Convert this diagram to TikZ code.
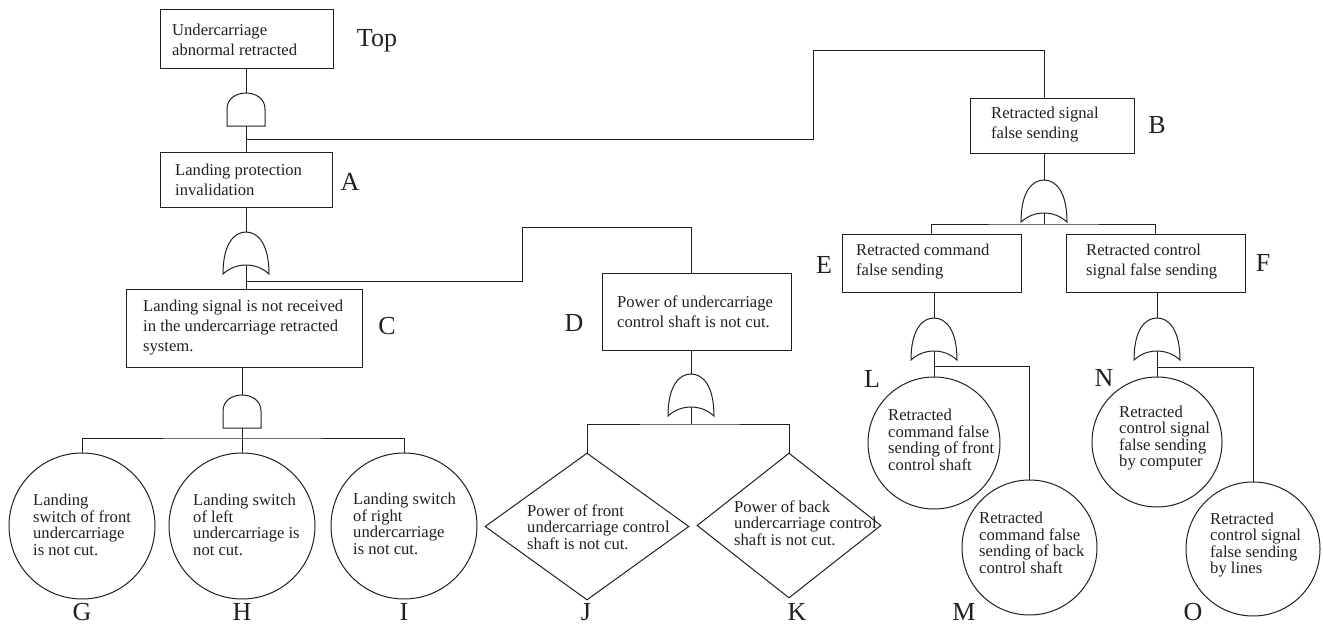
\documentclass[tikz,border=0pt]{standalone}
\usepackage{fontspec}
\setmainfont{Liberation Serif}
\usetikzlibrary{shapes.geometric}
\definecolor{ink}{RGB}{35,31,32}
\begin{document}
\begin{tikzpicture}[x=1pt,y=-1pt,
  line/.style={draw=ink,line width=1pt},
  gate/.style={draw=ink,line width=1pt,fill=white},
  boxnode/.style={draw=ink,line width=1pt,rectangle,inner sep=0pt},
  evnode/.style={draw=ink,line width=1pt,circle,inner sep=0pt},
  basenode/.style={draw=ink,line width=1pt,diamond,inner sep=0pt},
  btxt/.style={anchor=west,inner sep=0pt,align=left,text=ink,font=\fontsize{16.6}{20}\selectfont},
  ctxt/.style={anchor=west,inner sep=0pt,align=left,text=ink,font=\fontsize{16.6}{16.6}\selectfont},
  lbl/.style={anchor=base,inner sep=0pt,text=ink,font=\fontsize{26}{26}\selectfont},
  orgate/.pic={
    \draw[gate] (0,0) .. controls (12,0) and (23,12) .. (23,42)
      .. controls (10,30) and (-10,30) .. (-23,42)
      .. controls (-23,12) and (-12,0) .. cycle;
    \coordinate (-top) at (0,0);
    \coordinate (-out) at (0,33);
  },
  andgate/.pic={
    \draw[gate] (-19,33) -- (-19,16) .. controls (-19,-5.3) and (19,-5.3) .. (19,16) -- (19,33) -- cycle;
    \coordinate (-top) at (0,0);
    \coordinate (-out) at (0,33);
  }
]
\useasboundingbox (0,0) rectangle (1323,626);

% ---- event boxes
\node[boxnode,minimum width=173,minimum height=59] (Top) at (246.5,39.5) {};
\node[boxnode,minimum width=172,minimum height=55] (A) at (246,179.5) {};
\node[boxnode,minimum width=236,minimum height=78] (C) at (244,328) {};
\node[boxnode,minimum width=189,minimum height=77] (D) at (696.5,311.5) {};
\node[boxnode,minimum width=164,minimum height=55] (B) at (1052,125.5) {};
\node[boxnode,minimum width=179,minimum height=58] (E) at (931.5,263) {};
\node[boxnode,minimum width=179,minimum height=58] (F) at (1155.5,263) {};

% ---- basic events
\node[evnode,minimum size=146] (G) at (82,526) {};
\node[evnode,minimum size=146] (H) at (242,526) {};
\node[evnode,minimum size=146] (I) at (404,526) {};
\node[evnode,minimum size=132] (L) at (934,443) {};
\node[evnode,minimum size=135] (M) at (1029.5,547.5) {};
\node[evnode,minimum size=130] (N) at (1157,442) {};
\node[evnode,minimum size=134] (O) at (1253,549) {};

% ---- undeveloped events
\node[basenode,minimum width=204,minimum height=147] (J) at (587,526.5) {};
\node[basenode,minimum width=184,minimum height=145] (K) at (789,525.5) {};

% ---- gates
\pic (g1) at (246,93) {andgate};
\pic (gA) at (246,232) {orgate};
\pic (gC) at (242,395) {andgate};
\pic (gD) at (691,374) {orgate};
\pic (gB) at (1044,180) {orgate};
\pic (gE) at (934,318) {orgate};
\pic (gF) at (1157,318) {orgate};

% ---- junction coordinates
\coordinate (j1) at (246,139);
\coordinate (k1) at (813,51);
\coordinate (k2) at (1044,51);
\coordinate (j2) at (246,281);
\coordinate (k3) at (522,227);
\coordinate (b2) at (691,424);
\coordinate (b3) at (242,438);
\coordinate (b4) at (1044,224);
\coordinate (b5) at (934,366);
\coordinate (b6) at (1157,367);

% ---- connectors
\draw[line] (Top.south -| g1-top) -- (g1-top);
\draw[line] (g1-out) -- (A.north -| g1-out);
\draw[line] (j1) -| (k1) -- (k2) -- (k2 |- B.north);
\draw[line] (A.south -| gA-top) -- (gA-top);
\draw[line] (gA-out) -- (C.north -| gA-out);
\draw[line] (j2) -| (k3) -| (gD-top |- D.north);
\draw[line] (gD-top |- D.south) -- (gD-top);
\draw[line] (gD-out) -- (b2);
\draw[line] (J.north) |- (b2) -| (K.north);
\draw[line] (C.south -| gC-top) -- (gC-top);
\draw[line] (gC-out) -- (b3);
\draw[line] (G.north) |- (b3) -| (I.north);
\draw[line] (b3) -- (H.north);
\draw[line] (gB-top |- B.south) -- (gB-top);
\draw[line] (gB-out) -- (b4);
\draw[line] (E.north) |- (b4) -| (F.north);
\draw[line] (gE-top |- E.south) -- (gE-top);
\draw[line] (gE-out) -- (L.north);
\draw[line] (b5) -| (M.north);
\draw[line] (gF-top |- F.south) -- (gF-top);
\draw[line] (gF-out) -- (N.north);
\draw[line] (b6) -| (O.north);

% ---- texts
\node[btxt] (tTop) at (172,40) {Undercarriage\\abnormal retracted};
\node[btxt] (tA) at (175,180) {Landing protection\\invalidation};
\node[btxt] (tC) at (143,328) {Landing signal is not received\\in the undercarriage retracted\\system.};
\node[btxt] (tD) at (617,312) {Power of undercarriage\\control shaft is not cut.};
\node[btxt] (tB) at (991,125) {Retracted signal\\false sending};
\node[btxt] (tE) at (856,262) {Retracted command\\false sending};
\node[btxt] (tF) at (1086,262) {Retracted control\\signal false sending};
\node[ctxt] (tG) at (33,525) {Landing\\switch of front\\undercarriage\\is not cut.};
\node[ctxt] (tH) at (193,525) {Landing switch\\of left\\undercarriage is\\not cut.};
\node[ctxt] (tI) at (353,524) {Landing switch\\of right\\undercarriage\\is not cut.};
\node[ctxt] (tJ) at (527,527) {Power of front\\undercarriage control\\shaft is not cut.};
\node[ctxt] (tK) at (734,523) {Power of back\\undercarriage control\\shaft is not cut.};
\node[ctxt] (tL) at (888,440) {Retracted\\command false\\sending of front\\control shaft};
\node[ctxt] (tM) at (979,543) {Retracted\\command false\\sending of back\\control shaft};
\node[ctxt] (tN) at (1119,438) {Retracted\\control signal\\false sending\\by computer};
\node[ctxt] (tO) at (1210,545) {Retracted\\control signal\\false sending\\by lines};

% ---- labels
\node[lbl] (lTop) at (377,47) {Top};
\node[lbl] (lA) at (350,190) {A};
\node[lbl] (lB) at (1157,133) {B};
\node[lbl] (lC) at (387,334) {C};
\node[lbl] (lD) at (574,331) {D};
\node[lbl] (lE) at (824,273) {E};
\node[lbl] (lF) at (1263,271) {F};
\node[lbl] (lG) at (82,620) {G};
\node[lbl] (lH) at (242,620) {H};
\node[lbl] (lI) at (404,620) {I};
\node[lbl] (lJ) at (586,620) {J};
\node[lbl] (lK) at (797,620) {K};
\node[lbl] (lL) at (872,387) {L};
\node[lbl] (lM) at (964,620) {M};
\node[lbl] (lN) at (1104,386) {N};
\node[lbl] (lO) at (1193,620) {O};
\end{tikzpicture}
\end{document}
